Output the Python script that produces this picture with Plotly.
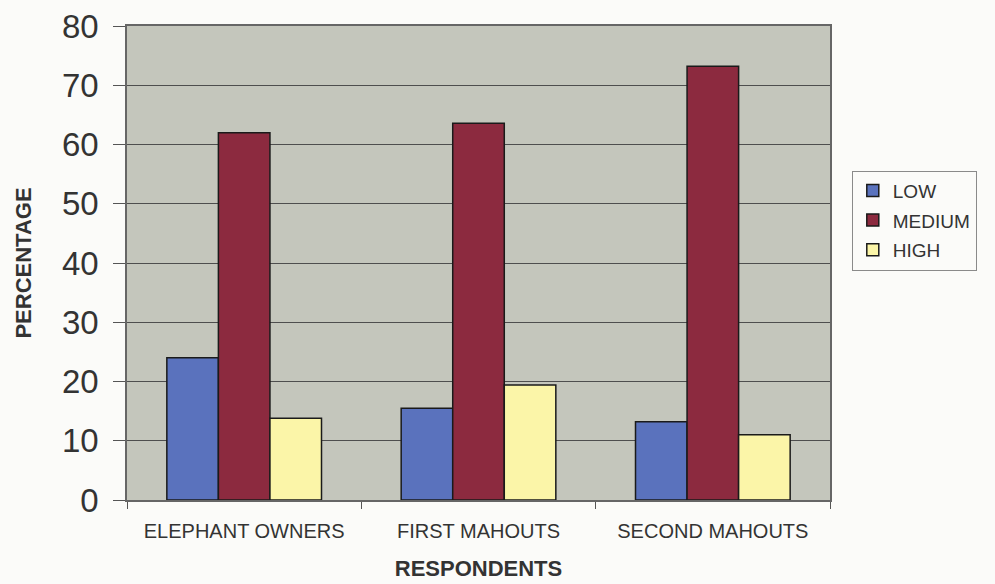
import plotly.graph_objects as go

# Respondent groups and the share (%) in each level
categories = ["ELEPHANT OWNERS", "FIRST MAHOUTS", "SECOND MAHOUTS"]
low = [24, 15.5, 13.2]
medium = [62, 63.6, 73.2]
high = [13.8, 19.4, 11]

series = [
    ("LOW", low, "#5a72bd"),
    ("MEDIUM", medium, "#8c2a3f"),
    ("HIGH", high, "#fbf5a8"),
]

fig = go.Figure()
for name, vals, color in series:
    fig.add_trace(go.Bar(
        x=categories, y=vals, name=name, legendgroup=name,
        marker=dict(color=color, line=dict(color="#1a1a1a", width=1.5)),
    ))

fig.update_layout(
    width=995, height=584,
    margin=dict(l=127, r=165, t=26, b=84, autoexpand=False),
    paper_bgcolor="#fbfbf9",
    plot_bgcolor="#c4c6bc",
    barmode="group",
    bargap=0.34,
    bargroupgap=0,
    font=dict(family="Liberation Sans, Arial, sans-serif", color="#333333"),
    legend=dict(
        x=1.031, y=0.695, xanchor="left", yanchor="top",
        bgcolor="#fbfbf9", bordercolor="#8a8a8a", borderwidth=1,
        font=dict(size=19, color="#333333"),
        itemwidth=30, tracegroupgap=2,
    ),
    showlegend=True,
)

fig.update_yaxes(
    range=[0, 80], dtick=10,
    tickfont=dict(size=33, color="#333333"),
    showgrid=True, gridcolor="#4e4e4e", gridwidth=1,
    ticks="outside", ticklen=12, tickcolor="#555555",
    ticklabelstandoff=8,
    showline=True, linecolor="#666666", linewidth=1.5, mirror=True,
    zeroline=False, automargin=False,
    title=dict(text="<b>PERCENTAGE</b>", font=dict(size=22, color="#333333"), standoff=24),
)
fig.update_xaxes(
    tickfont=dict(size=20, color="#333333"),
    ticks="outside", ticklen=7, tickcolor="#555555", tickson="boundaries",
    ticklabelstandoff=12,
    showline=True, linecolor="#666666", linewidth=1.5, mirror=True,
    showgrid=False, automargin=False,
    title=dict(text="<b>RESPONDENTS</b>", font=dict(size=22, color="#333333"), standoff=20),
)

fig.write_html("out.html")
